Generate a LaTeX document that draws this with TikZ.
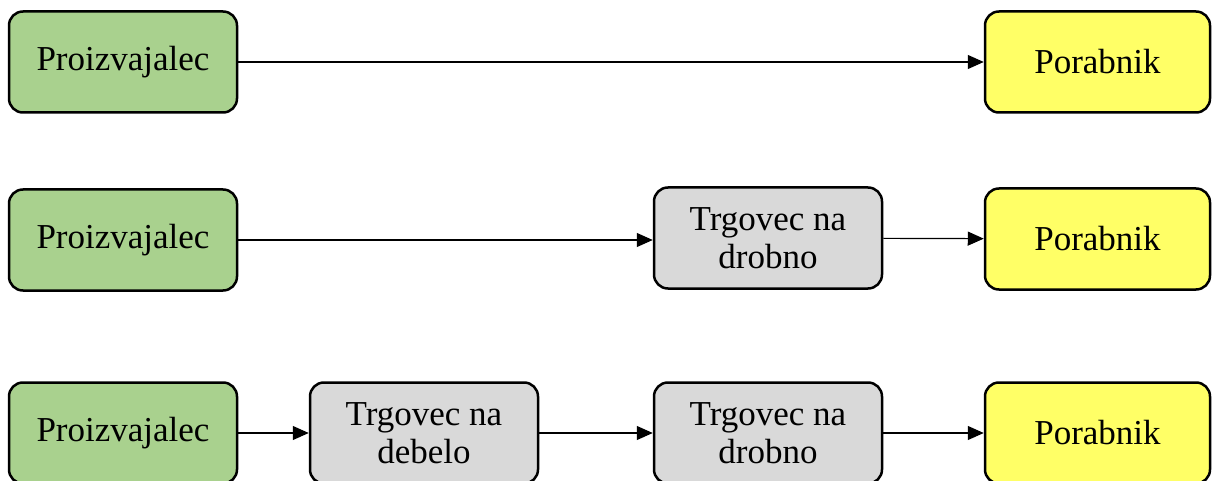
\documentclass[tikz,border=0pt]{standalone}
\usepackage{fontspec}
\setmainfont{Liberation Serif}
\usetikzlibrary{arrows.meta}
\definecolor{prodgreen}{HTML}{A9D18E}
\definecolor{consyellow}{HTML}{FFFF66}
\definecolor{tradegray}{HTML}{D9D9D9}
\begin{document}
\begin{tikzpicture}[x=1pt,y=-1pt,
  box/.style={draw=black, line width=2.5pt, rounded corners=14pt,
    minimum width=228pt, minimum height=101pt, align=center,
    font=\fontsize{35}{38}\selectfont, inner sep=0pt},
  producer/.style={box, fill=prodgreen},
  consumer/.style={box, fill=consyellow, minimum width=225pt},
  trader/.style={box, fill=tradegray},
  flow/.style={draw=black, line width=1.2pt, -{Triangle[length=16pt,width=14pt]}}]
\useasboundingbox (0,0) rectangle (1212,481);
% direct channel
\node[producer] (p1) at (123,62) {Proizvajalec};
\node[consumer] (c1) at (1097.5,62) {Porabnik};
\draw[flow] (p1) -- (c1);
% one intermediary
\node[producer] (p2) at (123,240) {Proizvajalec};
\node[trader]   (r2) at (768,238) {Trgovec na\\drobno};
\node[consumer] (c2) at (1097.5,239) {Porabnik};
\draw[flow] (p2.east) -- (r2.west |- p2.east);
\draw[flow] (r2) -- (c2);
% two intermediaries
\node[producer] (p3) at (123,433) {Proizvajalec};
\node[trader]   (w3) at (424,433) {Trgovec na\\debelo};
\node[trader]   (r3) at (768,433) {Trgovec na\\drobno};
\node[consumer] (c3) at (1097.5,433) {Porabnik};
\draw[flow] (p3) -- (w3);
\draw[flow] (w3) -- (r3);
\draw[flow] (r3) -- (c3);
\end{tikzpicture}
\end{document}
